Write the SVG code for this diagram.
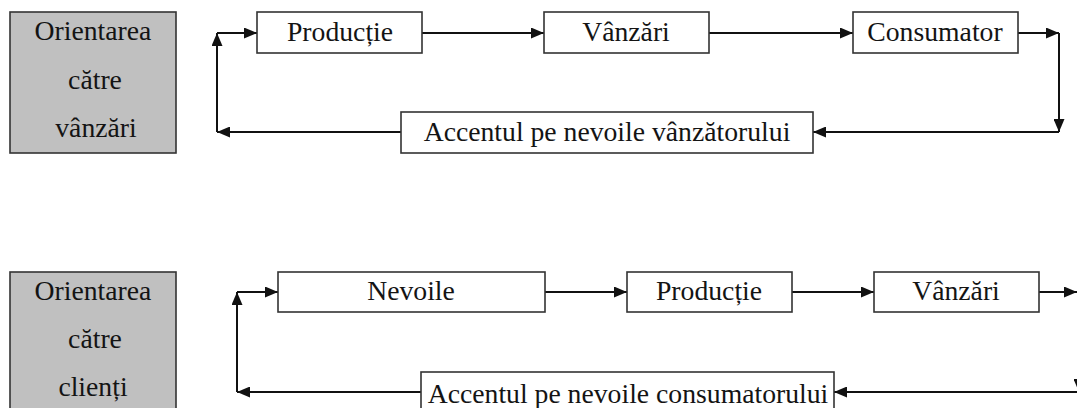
<svg xmlns="http://www.w3.org/2000/svg" width="1077" height="408" viewBox="0 0 1077 408">
<style>
.box{fill:#ffffff;stroke:#333;stroke-width:1.6}
.grey{fill:#c0c0c0;stroke:#333;stroke-width:1.6}
.t{font-family:"Liberation Serif","Times New Roman",serif;font-size:27.7px;fill:#141414;text-anchor:middle}
.c{fill:none;stroke:#111;stroke-width:2;marker-end:url(#ah)}
</style>
<defs>
<marker id="ah" markerUnits="userSpaceOnUse" markerWidth="13" markerHeight="11" refX="13" refY="5.5" orient="auto">
<path d="M0,0 L13,5.5 L0,11 z" fill="#111"/>
</marker>
</defs>
<rect width="1077" height="408" fill="#ffffff"/>
<g id="connectors">
<path class="c" d="M422,33 H544"/>
<path class="c" d="M709,33 H853"/>
<path class="c" d="M1018,33 H1059"/>
<path class="c" d="M1059,33 V132"/>
<path class="c" d="M1059,132 H813"/>
<path class="c" d="M401,132 H217"/>
<path class="c" d="M217,132 V33"/>
<path class="c" d="M217,33 H257"/>
<path class="c" d="M545,292 H627"/>
<path class="c" d="M792,292 H874"/>
<path class="c" d="M1039,292 H1077"/>
<path class="c" d="M1079,292 V392"/>
<path class="c" d="M1079,392 H834"/>
<path class="c" d="M421,392 H237"/>
<path class="c" d="M237,392 V292"/>
<path class="c" d="M237,292 H278"/>
</g>
<g id="orient-vanzari">
<rect class="grey" x="10" y="12" width="166" height="141"/>
<text class="t" x="93" y="40">Orientarea</text>
<text class="t" x="95" y="89">către</text>
<text class="t" x="96" y="137">vânzări</text>
</g>
<g id="productie1">
<rect class="box" x="257" y="12" width="165" height="41"/>
<text class="t" x="340" y="41">Producție</text>
</g>
<g id="vanzari1">
<rect class="box" x="544" y="12" width="165" height="41"/>
<text class="t" x="626" y="41">Vânzări</text>
</g>
<g id="consumator">
<rect class="box" x="853" y="12" width="165" height="41"/>
<text class="t" x="935" y="41">Consumator</text>
</g>
<g id="accent-vanzator">
<rect class="box" x="401" y="112" width="412" height="41"/>
<text class="t" x="607" y="141">Accentul pe nevoile vânzătorului</text>
</g>
<g id="orient-clienti">
<rect class="grey" x="10" y="272" width="166" height="150"/>
<text class="t" x="93" y="300">Orientarea</text>
<text class="t" x="95" y="348">către</text>
<text class="t" x="93" y="396">clienți</text>
</g>
<g id="nevoile">
<rect class="box" x="278" y="272" width="267" height="40"/>
<text class="t" x="411" y="300">Nevoile</text>
</g>
<g id="productie2">
<rect class="box" x="627" y="272" width="165" height="40"/>
<text class="t" x="709" y="300">Producție</text>
</g>
<g id="vanzari2">
<rect class="box" x="874" y="272" width="165" height="40"/>
<text class="t" x="956" y="300">Vânzări</text>
</g>
<g id="accent-consumator">
<rect class="box" x="421" y="372" width="413" height="50"/>
<text class="t" x="628" y="403">Accentul pe nevoile consumatorului</text>
</g>
</svg>
